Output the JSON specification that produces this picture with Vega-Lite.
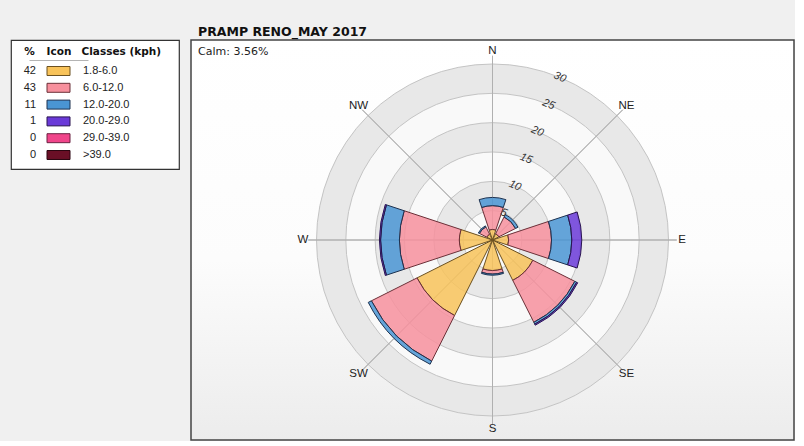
{
  "$schema": "https://vega.github.io/schema/vega-lite/v6.json",
  "background": "#f0f0f0",
  "padding": {"left": 10, "top": 24, "right": 0, "bottom": 0},
  "bounds": "flush",
  "spacing": 12,
  "config": {"font": "Liberation Sans"},
  "datasets": {
    "classes": [
      {"cls": "1.8-6.0", "pct": 42, "k": 1},
      {"cls": "6.0-12.0", "pct": 43, "k": 2},
      {"cls": "12.0-20.0", "pct": 11, "k": 3},
      {"cls": "20.0-29.0", "pct": 1, "k": 4},
      {"cls": "29.0-39.0", "pct": 0, "k": 5},
      {"cls": ">39.0", "pct": 0, "k": 6}
    ],
    "rose": [
      {"dir": "N", "deg": 0, "cls": "1.8-6.0", "k": 1, "value": 1.8},
      {"dir": "N", "deg": 0, "cls": "6.0-12.0", "k": 2, "value": 4.05},
      {"dir": "N", "deg": 0, "cls": "12.0-20.0", "k": 3, "value": 1.4},
      {"dir": "NE", "deg": 45, "cls": "1.8-6.0", "k": 1, "value": 1.2},
      {"dir": "NE", "deg": 45, "cls": "6.0-12.0", "k": 2, "value": 3.2},
      {"dir": "NE", "deg": 45, "cls": "12.0-20.0", "k": 3, "value": 0.45},
      {"dir": "E", "deg": 90, "cls": "1.8-6.0", "k": 1, "value": 2.75},
      {"dir": "E", "deg": 90, "cls": "6.0-12.0", "k": 2, "value": 7.3},
      {"dir": "E", "deg": 90, "cls": "12.0-20.0", "k": 3, "value": 3.45},
      {"dir": "E", "deg": 90, "cls": "20.0-29.0", "k": 4, "value": 1.7},
      {"dir": "SE", "deg": 135, "cls": "1.8-6.0", "k": 1, "value": 7.7},
      {"dir": "SE", "deg": 135, "cls": "6.0-12.0", "k": 2, "value": 8.0},
      {"dir": "SE", "deg": 135, "cls": "12.0-20.0", "k": 3, "value": 0.35},
      {"dir": "SE", "deg": 135, "cls": "20.0-29.0", "k": 4, "value": 0.2},
      {"dir": "S", "deg": 180, "cls": "1.8-6.0", "k": 1, "value": 5.2},
      {"dir": "S", "deg": 180, "cls": "6.0-12.0", "k": 2, "value": 0.6},
      {"dir": "S", "deg": 180, "cls": "12.0-20.0", "k": 3, "value": 0.2},
      {"dir": "SW", "deg": 225, "cls": "1.8-6.0", "k": 1, "value": 14.4},
      {"dir": "SW", "deg": 225, "cls": "6.0-12.0", "k": 2, "value": 8.7},
      {"dir": "SW", "deg": 225, "cls": "12.0-20.0", "k": 3, "value": 0.6},
      {"dir": "W", "deg": 270, "cls": "1.8-6.0", "k": 1, "value": 5.65},
      {"dir": "W", "deg": 270, "cls": "6.0-12.0", "k": 2, "value": 10.2},
      {"dir": "W", "deg": 270, "cls": "12.0-20.0", "k": 3, "value": 3.2},
      {"dir": "W", "deg": 270, "cls": "20.0-29.0", "k": 4, "value": 0.2},
      {"dir": "NW", "deg": 315, "cls": "1.8-6.0", "k": 1, "value": 1.1},
      {"dir": "NW", "deg": 315, "cls": "6.0-12.0", "k": 2, "value": 1.4},
      {"dir": "NW", "deg": 315, "cls": "12.0-20.0", "k": 3, "value": 0.2}
    ],
    "dirs": [
      {"dir": "N", "deg": 0}, {"dir": "NE", "deg": 45}, {"dir": "E", "deg": 90}, {"dir": "SE", "deg": 135},
      {"dir": "S", "deg": 180}, {"dir": "SW", "deg": 225}, {"dir": "W", "deg": 270}, {"dir": "NW", "deg": 315}
    ],
    "rings": [{"r": 5}, {"r": 10}, {"r": 15}, {"r": 20}, {"r": 25}, {"r": 30}],
    "bands": [{"r0": 5, "r1": 10}, {"r0": 15, "r1": 20}, {"r0": 25, "r1": 30}],
    "disc": [{"r": 30}]
  },
  "hconcat": [
    {
      "width": 168,
      "height": 129,
      "view": {"fill": "#ffffff", "stroke": "#333333", "strokeWidth": 1.2},
      "data": {"name": "classes"},
      "encoding": {
        "y": {"field": "cls", "type": "nominal",
          "scale": {"type": "point", "domain": ["1.8-6.0", "6.0-12.0", "12.0-20.0", "20.0-29.0", "29.0-39.0", ">39.0"], "range": [31, 115], "padding": 0},
          "axis": {"orient": "left", "values": ["1.8-6.0"], "grid": true, "gridColor": "#b4b4b4", "gridWidth": 1, "tickOffset": -11,
            "labels": false, "ticks": false, "domain": false, "title": null}}
      },
      "layer": [
        {
          "mark": {"type": "text", "align": "right", "dx": 7, "fontSize": 11, "color": "#222222"},
          "encoding": {
            "x": {"datum": "%", "type": "nominal",
              "scale": {"type": "point", "domain": ["%", "Icon", "Classes (kph)"], "range": [18, 77], "padding": 0},
              "axis": {"orient": "top", "offset": -20, "domain": false, "ticks": false, "grid": false, "title": null, "labelAngle": 0,
                "labelFont": "DejaVu Sans", "labelFontWeight": "bold", "labelFontSize": 10.5, "labelColor": "#111111", "labelPadding": 4,
                "labelAlign": {"condition": {"test": "datum.value === 'Classes (kph)'", "value": "left"}, "value": "center"},
                "labelOffset": {"condition": {"test": "datum.value === 'Classes (kph)'", "value": -7}, "value": 0}}},
            "text": {"field": "pct", "type": "quantitative"}
          }
        },
        {
          "mark": {"type": "point", "shape": "M-1,-0.39H1V0.39H-1Z", "size": 529, "filled": true, "opacity": 1, "strokeWidth": 1},
          "encoding": {
            "x": {"datum": "Icon", "type": "nominal"},
            "fill": {"field": "cls", "type": "nominal", "legend": null,
              "scale": {"domain": ["1.8-6.0", "6.0-12.0", "12.0-20.0", "20.0-29.0", "29.0-39.0", ">39.0"], "range": ["#f8c35a", "#f7909d", "#4a95d3", "#6a3ad8", "#f0458a", "#6a0f26"]}},
            "stroke": {"field": "cls", "type": "nominal", "legend": null,
              "scale": {"domain": ["1.8-6.0", "6.0-12.0", "12.0-20.0", "20.0-29.0", "29.0-39.0", ">39.0"], "range": ["#6b5020", "#6b3038", "#1e3250", "#2a1550", "#6b2040", "#2a0510"]}}
          }
        },
        {
          "mark": {"type": "text", "align": "left", "dx": -5, "fontSize": 11, "color": "#222222"},
          "encoding": {
            "x": {"datum": "Classes (kph)", "type": "nominal"},
            "text": {"field": "cls", "type": "nominal"}
          }
        }
      ]
    },
    {
      "width": 603,
      "height": 400,
      "view": {"stroke": "#444444", "strokeWidth": 1.5,
        "fill": {"gradient": "linear", "x1": 0, "y1": 0, "x2": 0, "y2": 1, "stops": [{"offset": 0, "color": "#ffffff"}, {"offset": 0.55, "color": "#fcfcfc"}, {"offset": 1, "color": "#ececec"}]}},
      "title": {"text": "PRAMP RENO_MAY 2017", "subtitle": "Calm: 3.56%", "anchor": "start", "frame": "group", "dx": 7, "offset": -17,
        "font": "DejaVu Sans", "fontSize": 12.5, "fontWeight": "bold", "color": "#111111",
        "subtitleFont": "DejaVu Sans", "subtitleFontSize": 11, "subtitleColor": "#222222", "subtitlePadding": 8},
      "layer": [
        {
          "data": {"name": "disc"},
          "mark": {"type": "arc", "fill": "#f9f9f9"},
          "encoding": {
            "theta": {"datum": 0, "type": "quantitative", "stack": null, "scale": {"type": "linear", "domain": [0, 360], "range": [0, 6.283185]}},
            "theta2": {"datum": 360},
            "radius": {"field": "r", "type": "quantitative", "stack": null, "scale": {"type": "linear", "domain": [0, 30], "range": [0, 176], "zero": true}}
          }
        },
        {
          "data": {"name": "bands"},
          "mark": {"type": "arc", "fill": "#e8e8e8"},
          "encoding": {
            "theta": {"datum": 0, "type": "quantitative", "stack": null},
            "theta2": {"datum": 360},
            "radius": {"field": "r1", "type": "quantitative", "stack": null},
            "radius2": {"field": "r0"}
          }
        },
        {
          "data": {"name": "rings"},
          "mark": {"type": "arc", "fill": null, "stroke": "#c4c4c4", "strokeWidth": 1},
          "encoding": {
            "theta": {"datum": 0, "type": "quantitative", "stack": null},
            "theta2": {"datum": 360},
            "radius": {"field": "r", "type": "quantitative", "stack": null}
          }
        },
        {
          "data": {"name": "dirs"},
          "mark": {"type": "arc", "fill": null, "stroke": "#b0b0b0", "strokeWidth": 1},
          "encoding": {
            "theta": {"field": "deg", "type": "quantitative", "stack": null},
            "theta2": {"field": "deg"},
            "radius": {"datum": 31.4, "type": "quantitative", "stack": null}
          }
        },
        {
          "data": {"name": "rose"},
          "transform": [{"stack": "value", "groupby": ["dir"], "sort": [{"field": "k", "order": "ascending"}], "as": ["r0", "r1"]}],
          "mark": {"type": "arc", "thetaOffset": -0.32, "theta2Offset": 0.32, "fillOpacity": 0.85, "strokeWidth": 1},
          "encoding": {
            "theta": {"field": "deg", "type": "quantitative", "stack": null},
            "theta2": {"field": "deg"},
            "radius": {"field": "r1", "type": "quantitative", "stack": null},
            "radius2": {"field": "r0"},
            "fill": {"field": "cls", "type": "nominal", "legend": null,
              "scale": {"domain": ["1.8-6.0", "6.0-12.0", "12.0-20.0", "20.0-29.0", "29.0-39.0", ">39.0"], "range": ["#f8c35a", "#f7909d", "#4a95d3", "#7a44e0", "#f0458a", "#6a0f26"]}},
            "stroke": {"field": "cls", "type": "nominal", "legend": null,
              "scale": {"domain": ["1.8-6.0", "6.0-12.0", "12.0-20.0", "20.0-29.0", "29.0-39.0", ">39.0"], "range": ["#9a6a20", "#b03a4a", "#1a2f55", "#22104a", "#8a2040", "#2a0510"]}}
          }
        },
        {
          "data": {"name": "rings"},
          "mark": {"type": "text", "angle": 22.5, "fontSize": 11, "fontStyle": "italic", "color": "#333333"},
          "encoding": {
            "theta": {"datum": 22.5, "type": "quantitative", "stack": null},
            "radius": {"field": "r", "type": "quantitative", "stack": null},
            "text": {"field": "r", "type": "quantitative"}
          }
        },
        {
          "data": {"name": "dirs"},
          "mark": {"type": "text", "fontSize": 11.5, "color": "#222222"},
          "encoding": {
            "theta": {"field": "deg", "type": "quantitative", "stack": null},
            "radius": {"datum": 32.3, "type": "quantitative", "stack": null},
            "text": {"field": "dir", "type": "nominal"}
          }
        }
      ]
    }
  ]
}
